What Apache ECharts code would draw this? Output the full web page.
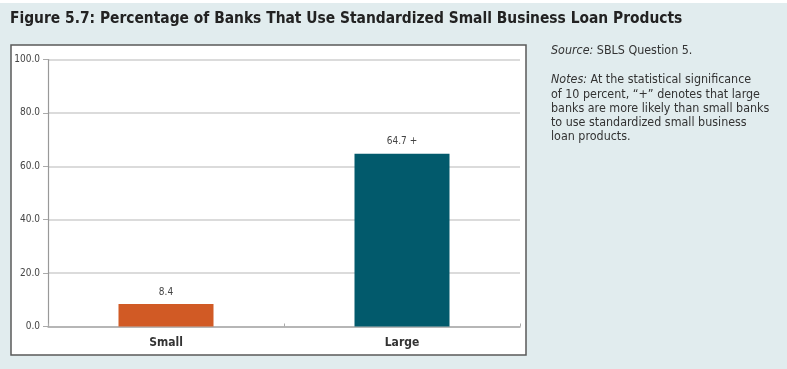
<!DOCTYPE html>
<html>
<head>
<meta charset="utf-8">
<script src="https://cdn.jsdelivr.net/npm/echarts@6/dist/echarts.min.js"></script>
<style>
html,body{margin:0;padding:0;background:#e1ecee;}
#c{width:787px;height:369px;}
</style>
</head>
<body>
<div id="c"></div>
<script>
const categories = ['Small', 'Large'];
const values = [8.4, 64.7];
const labelSuffix = ['', ' +'];
const barColors = ['#d15a25', '#025a6c'];
const yTicks = [0, 20, 40, 60, 80, 100];

const titleText = 'Figure 5.7: Percentage of Banks That Use Standardized Small Business Loan Products';
const notesLines = [
  'of 10 percent, \u201c+\u201d denotes that large',
  'banks are more likely than small banks',
  'to use standardized small business',
  'loan products.'
];

const FONT = '"DejaVu Sans Condensed", "Liberation Sans Narrow", sans-serif';
const NFS = 12.4;
const chart = echarts.init(document.getElementById('c'), null, {renderer: 'canvas'});

const rich = {i: {fontStyle: 'italic', fontFamily: FONT, fontSize: NFS, fill: '#333'},
              n: {fontFamily: FONT, fontSize: NFS, fill: '#333'}};
const noteGraphics = [
  {type: 'text', left: 551, top: 45, style: {rich: rich,
    text: '{i|Source:} {n|SBLS Question 5.}', fontFamily: FONT, fontSize: NFS, fill: '#333'}},
  {type: 'text', left: 551, top: 74, style: {rich: rich,
    text: '{i|Notes:} {n|At the statistical significance}', fontFamily: FONT, fontSize: NFS, fill: '#333'}}
];
notesLines.forEach((t, i) => {
  noteGraphics.push({type: 'text', left: 551, top: 88.3 + i * 14.3,
    style: {text: t, fontFamily: FONT, fontSize: NFS, fill: '#333'}});
});

chart.setOption({
  backgroundColor: '#e1ecee',
  animation: false,
  title: {
    text: titleText, left: 5, top: 6,
    textStyle: {fontFamily: FONT, fontWeight: 'bold', fontSize: 15.4, color: '#222'}
  },
  graphic: [
    {type: 'rect', shape: {x: 0, y: 0, width: 787, height: 3}, style: {fill: '#ffffff'}, z: -1},
    {type: 'rect', shape: {x: 11, y: 45, width: 515, height: 310},
     style: {fill: '#ffffff', stroke: '#5a5a5a', lineWidth: 1.5}, z: -1}
  ].concat(noteGraphics),
  grid: {left: 48, right: 267, top: 59.5, bottom: 42.5, containLabel: false},
  xAxis: {
    type: 'category', data: categories,
    axisLine: {lineStyle: {color: '#aaaaaa', width: 1.5}},
    axisTick: {show: true, inside: true, length: 3, lineStyle: {color: '#aaaaaa'}},
    axisLabel: {fontFamily: FONT, fontWeight: 'bold', fontSize: 12, color: '#333', margin: 10}
  },
  yAxis: {
    type: 'value', min: 0, max: 100, interval: 20,
    axisLine: {show: true, lineStyle: {color: '#999999', width: 1.2}},
    axisTick: {show: true, length: 5, lineStyle: {color: '#aaaaaa'}},
    splitLine: {lineStyle: {color: '#cfcfcf', width: 1.5}},
    axisLabel: {fontFamily: FONT, fontSize: 10, color: '#444', margin: 8,
      formatter: v => v.toFixed(1)}
  },
  series: [{
    type: 'bar', barWidth: 95,
    data: values.map((v, i) => ({value: v, itemStyle: {color: barColors[i]}})),
    label: {show: true, position: 'top', distance: 7, fontFamily: FONT, fontSize: 10, color: '#444',
      formatter: p => p.value.toFixed(1) + labelSuffix[p.dataIndex]}
  }]
});
</script>
</body>
</html>
